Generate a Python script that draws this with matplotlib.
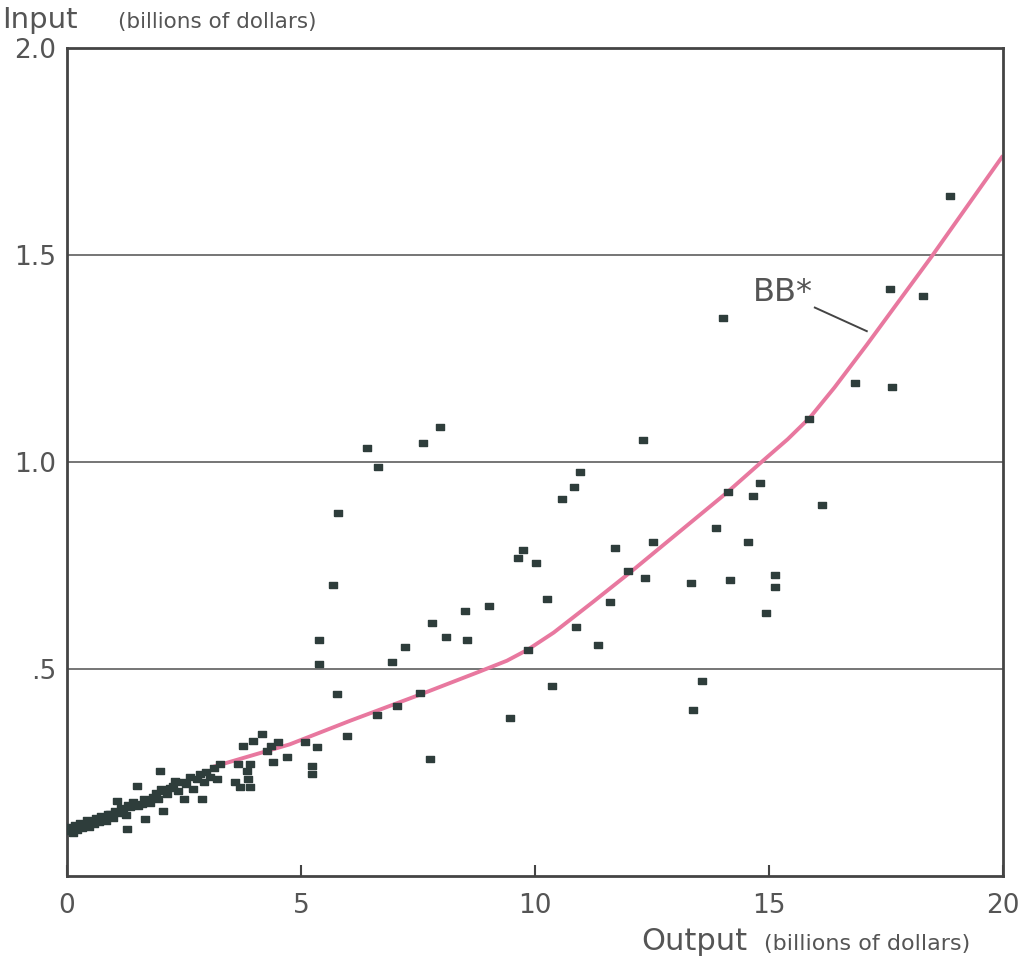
import matplotlib
matplotlib.use("Agg")
from matplotlib import pyplot as plt

# small firms (dense band near the origin), billions of dollars
small_out = [0.03, 0.08, 0.12, 0.18, 0.22, 0.28, 0.32, 0.38, 0.42, 0.48, 0.53, 0.58,
             0.62, 0.68, 0.72, 0.78, 0.84, 0.88, 0.92, 0.98, 1.02, 1.06, 1.10, 1.15,
             1.20, 1.25, 1.28, 1.30, 1.35, 1.42, 1.49, 1.52, 1.60, 1.65, 1.67, 1.70,
             1.78, 1.84, 1.90, 1.95, 1.99, 2.00, 2.06, 2.10, 2.13, 2.20, 2.27, 2.31,
             2.38, 2.45, 2.49, 2.55, 2.63, 2.70, 2.78, 2.84, 2.88, 2.92, 2.98, 3.05,
             3.13, 3.20, 3.27, 3.59, 3.65, 3.70, 3.76, 3.85, 3.87, 3.91, 3.91, 3.97,
             4.17, 4.27, 4.35, 4.40, 4.51, 4.70]
small_in = [0.108, 0.118, 0.105, 0.122, 0.112, 0.128, 0.115, 0.125, 0.135, 0.118, 0.133, 0.125,
            0.140, 0.130, 0.145, 0.141, 0.132, 0.150, 0.149, 0.140, 0.158, 0.181, 0.152, 0.165,
            0.161, 0.148, 0.113, 0.172, 0.166, 0.178, 0.218, 0.170, 0.173, 0.186, 0.137, 0.181,
            0.176, 0.190, 0.200, 0.185, 0.254, 0.210, 0.157, 0.205, 0.198, 0.212, 0.218, 0.230,
            0.205, 0.226, 0.186, 0.222, 0.238, 0.210, 0.235, 0.246, 0.186, 0.228, 0.250, 0.240,
            0.262, 0.234, 0.270, 0.226, 0.270, 0.214, 0.313, 0.253, 0.234, 0.214, 0.270, 0.325,
            0.342, 0.301, 0.315, 0.275, 0.323, 0.287]

# larger firms
large_out = [5.09, 5.34, 5.24, 5.24, 5.98, 7.97, 6.41, 7.61, 6.65, 12.31, 10.96, 10.83,
             10.58, 5.79, 9.74, 9.64, 10.02, 11.71, 12.52, 11.99, 12.35, 5.68, 10.26, 11.60,
             8.50, 9.02, 7.80, 8.10, 8.55, 10.88, 11.35, 5.38, 5.38, 9.85, 7.22, 6.94,
             10.36, 5.77, 7.54, 9.47, 7.05, 6.62, 7.76, 14.81, 14.12, 14.66, 13.87, 14.55,
             13.33, 14.17, 15.13, 15.13, 16.13, 14.94, 13.57, 13.38, 17.59, 18.29, 16.84,
             17.63, 15.85, 18.87, 14.02]
large_in = [0.323, 0.311, 0.265, 0.246, 0.337, 1.084, 1.034, 1.046, 0.988, 1.053, 0.976, 0.940,
            0.911, 0.877, 0.788, 0.769, 0.757, 0.793, 0.807, 0.737, 0.720, 0.704, 0.670, 0.663,
            0.641, 0.651, 0.612, 0.578, 0.571, 0.602, 0.557, 0.571, 0.513, 0.545, 0.554, 0.518,
            0.458, 0.439, 0.441, 0.381, 0.410, 0.390, 0.282, 0.949, 0.928, 0.918, 0.841, 0.807,
            0.708, 0.716, 0.728, 0.699, 0.896, 0.636, 0.472, 0.402, 1.419, 1.400, 1.190,
            1.181, 1.104, 1.643, 1.349]

# fitted curve BB*
bb_out = [3.10, 4.76, 6.05, 7.54, 8.82, 9.40, 9.85, 10.40, 11.24, 12.03, 14.10, 14.81,
          15.40, 15.88, 16.40, 17.09, 18.48, 20.0]
bb_in = [0.263, 0.318, 0.375, 0.438, 0.494, 0.520, 0.547, 0.588, 0.662, 0.733, 0.926, 0.997,
         1.055, 1.108, 1.180, 1.283, 1.497, 1.740]

x_ticks = [0, 5, 10, 15, 20]
x_labels = ['0', '5', '10', '15', '20']
y_ticks = [0.5, 1.0, 1.5, 2.0]
y_labels = ['.5', '1.0', '1.5', '2.0']

txt = '#555555'
dot = '#2e3d3b'

fig = plt.figure(figsize=(10.25, 9.58), dpi=100)
ax = fig.add_axes([0.0654, 0.0856, 0.9131, 0.8643])

# gridlines only at the labelled levels
for v in y_ticks[:-1]:
    ax.axhline(v, color='#6a6a6a', lw=1.3, zorder=1)

ax.plot(bb_out, bb_in, color='#e8789f', lw=2.8, zorder=2, solid_capstyle='butt')

# slightly flat squares
sq = [(-1, -0.72), (1, -0.72), (1, 0.72), (-1, 0.72), (-1, -0.72)]
ax.plot(small_out, small_in, ls='none', marker=sq, ms=6.2, color=dot, mec=dot, zorder=3)
ax.plot(large_out, large_in, ls='none', marker=sq, ms=6.2, color=dot, mec=dot, zorder=3)

ax.set_xlim(0, 20)
ax.set_ylim(0, 2.0)
ax.set_xticks(x_ticks)
ax.set_xticklabels(x_labels)
ax.set_yticks(y_ticks)
ax.set_yticklabels(y_labels)
ax.tick_params(axis='x', direction='in', length=8, width=1.5, color='#444444',
               labelsize=19, labelcolor=txt, pad=12)
ax.tick_params(axis='y', length=0, labelsize=19, labelcolor=txt, pad=8)
for s in ax.spines.values():
    s.set_color('#444444')
    s.set_linewidth(2)

# BB* label and leader
ax.text(15.3, 1.41, 'BB*', fontsize=23, color=txt, ha='center', va='center')
ax.plot([15.98, 17.09], [1.373, 1.316], color='#444444', lw=1.4, zorder=2)

# axis titles
fig.text(0.002, 0.971, 'Input', fontsize=21, color=txt, va='baseline')
fig.text(0.115, 0.971, '(billions of dollars)', fontsize=15.5, color=txt, va='baseline')
fig.text(0.626, 0.008, 'Output', fontsize=22, color=txt, va='baseline')
fig.text(0.745, 0.008, '(billions of dollars)', fontsize=16, color=txt, va='baseline')

fig.savefig('out.png', dpi=100)
